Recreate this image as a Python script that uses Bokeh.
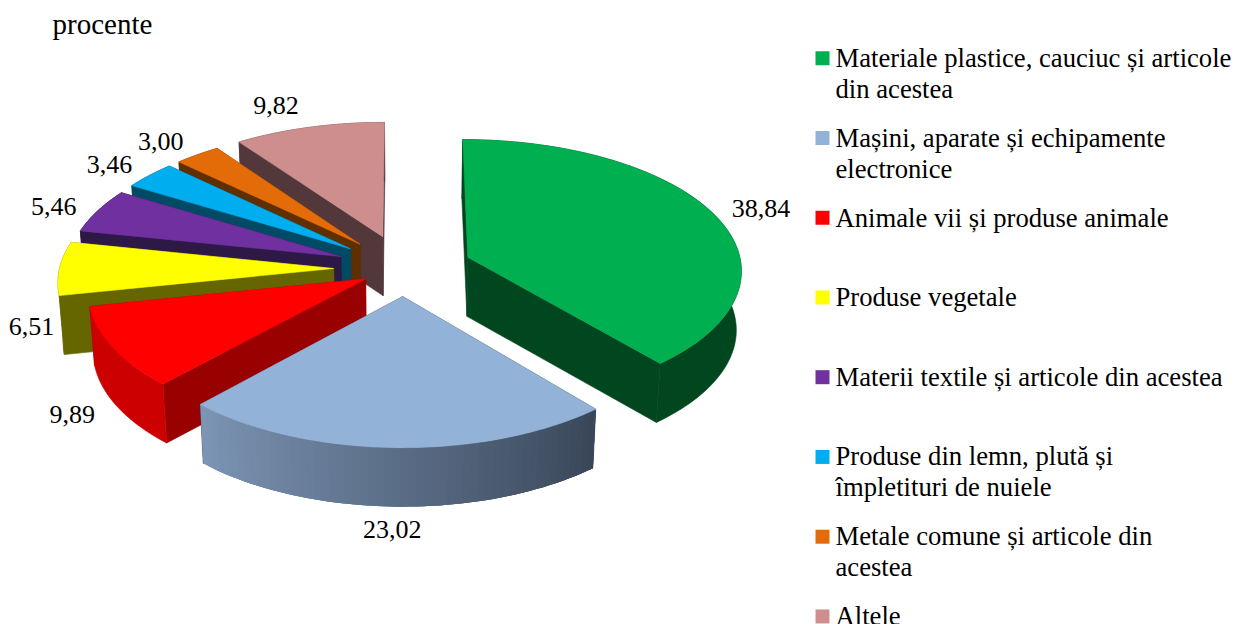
import math
from bokeh.plotting import figure
from bokeh.models import Range1d
from bokeh.core.properties import value
from bokeh.embed import file_html
from bokeh.resources import INLINE

# ---- data ----
CATEGORIES = [
    ["Materiale plastice, cauciuc și articole", "din acestea"],
    ["Mașini, aparate și echipamente", "electronice"],
    ["Animale vii și produse animale"],
    ["Produse vegetale"],
    ["Materii textile și articole din acestea"],
    ["Produse din lemn, plută și", "împletituri de nuiele"],
    ["Metale comune și articole din", "acestea"],
    ["Altele"],
]
VALUES = [38.84, 23.02, 9.89, 6.51, 5.46, 3.46, 3.00, 9.82]
LABELS = ["38,84", "23,02", "9,89", "6,51", "5,46", "3,46", "3,00", "9,82"]
UNIT_LABEL = "procente"

# ---- style ----
TOP = ["#00AF50", "#93B2D7", "#FF0000", "#FFFF00", "#7030A0", "#00AEEF", "#E36C09", "#CE8E8E"]
RADIAL = ["#00461F", "#3A4759", "#990000", "#666600", "#2D1846", "#004A66", "#5F2F00", "#52383A"]
ARC = ["#00461F", None, "#CC0000", "#666600", "#2D1846", "#004A66", "#5F2F00", "#52383A"]
GRAD_L, GRAD_R = (0x7D, 0x96, 0xB6), (0x3A, 0x47, 0x59)
EXPLODE = [0.25, 0.21, 0.16, 0.257, 0.25, 0.25, 0.25, 0.26]
LABEL_NUDGE = [(47, -5.5), (-3.5, 81.5), (-40.7, 67.3), (-28, 58), (-44, -4.5), (-40, -11), (-36.6, -13.7), (-33, -21.7)]
DRAW_ORDER = [7, 6, 5, 4, 3, 2, 1, 0]

CX, CY, RX, RY, DEPTH_X, DEPTH_Y, H, SHRINK = 403.5, 268.0, 274.0, 131.0, 11.5, 10.5, 59.0, 0.985
FONT = value("Liberation Serif")


def project(u, v, low=False):
    x = RX * u / (1.0 + v / DEPTH_X)
    y = CY - RY * v / (1.0 + v / DEPTH_Y)
    if low:
        return CX + x * SHRINK, y + H
    return CX + x, y


def hexcol(c):
    return "#%02X%02X%02X" % tuple(int(round(k)) for k in c)


total = sum(VALUES)
starts, acc = [], 0.0
for val in VALUES:
    starts.append(acc / total * 2 * math.pi)
    acc += val
ends = starts[1:] + [2 * math.pi]

xs, ys, fills, lines_c = [], [], [], []


def add(poly, col, edge=True):
    xs.append([q[0] for q in poly])
    ys.append([q[1] for q in poly])
    fills.append(col)
    lines_c.append(col if edge else None)


for i in DRAW_ORDER:
    a0, a1 = starts[i], ends[i]
    m = (a0 + a1) / 2
    ou, ov = EXPLODE[i] * math.sin(m), EXPLODE[i] * math.cos(m)
    n = max(6, int((a1 - a0) / math.radians(1.5)))
    angles = [a0 + (a1 - a0) * k / n for k in range(n + 1)]
    rim = [(ou + math.sin(t), ov + math.cos(t)) for t in angles]
    radials = sorted((rim[0], rim[-1]), key=lambda r: -r[1])
    for p0 in radials:
        add([project(ou, ov), project(*p0), project(*p0, True), project(ou, ov, True)], RADIAL[i])
    if ARC[i] is None:
        # gradient outer side: strips painted over one another so no seams show
        for k in range(n - 1, -1, -1):
            f = 1 - k / n
            col = hexcol([GRAD_L[c] + (GRAD_R[c] - GRAD_L[c]) * f for c in range(3)])
            stop = max(k - 2, 0)
            poly = [project(*rim[j]) for j in range(stop, k + 2)]
            poly += [project(*rim[j], True) for j in range(k + 1, stop - 1, -1)]
            add(poly, col, edge=False)
    else:
        add([project(*r) for r in rim] + [project(*r, True) for r in reversed(rim)], ARC[i])
    add([project(ou, ov)] + [project(*r) for r in rim], TOP[i])

p = figure(width=1234, height=624, x_range=Range1d(0, 1234), y_range=Range1d(624, 0),
           x_axis_type=None, y_axis_type=None, toolbar_location=None, output_backend="svg",
           min_border=0, outline_line_color=None)
p.grid.visible = False

p.patches(xs, ys, fill_color=fills, line_color=lines_c, line_width=0.6)

# value labels, anchored on each slice's rim midpoint
lx, ly = [], []
for i, (a0, a1) in enumerate(zip(starts, ends)):
    m = (a0 + a1) / 2
    ax, ay = project((1 + EXPLODE[i]) * math.sin(m), (1 + EXPLODE[i]) * math.cos(m))
    lx.append(ax + LABEL_NUDGE[i][0])
    ly.append(ay + LABEL_NUDGE[i][1])
p.text(lx, ly, text=LABELS, text_font=FONT, text_font_size="26px", text_align="center",
       text_baseline="alphabetic", text_color="#000000")

p.text([52], [23], text=[UNIT_LABEL], text_font=FONT, text_font_size="29px", text_baseline="alphabetic",
       text_color="#000000")

# legend
LEG_X, LEG_Y0, LEG_STEP, TEXT_STEP, LEG_LINE, TEXT_DY = 835, 66.7, 79.75, 79.6, 31, -8.8
for i, lines in enumerate(CATEGORIES):
    base = LEG_Y0 + LEG_STEP * i
    p.quad(left=[815], right=[829], top=[base - 16], bottom=[base - 2], fill_color=TOP[i], line_color=None)
    for j, line in enumerate(lines):
        p.text([LEG_X], [LEG_Y0 + TEXT_STEP * i + TEXT_DY + j * LEG_LINE], text=[line], text_font=FONT,
               text_font_size="26.67px", text_baseline="alphabetic", text_color="#000000")

open("out.html", "w").write(file_html(p, INLINE))
